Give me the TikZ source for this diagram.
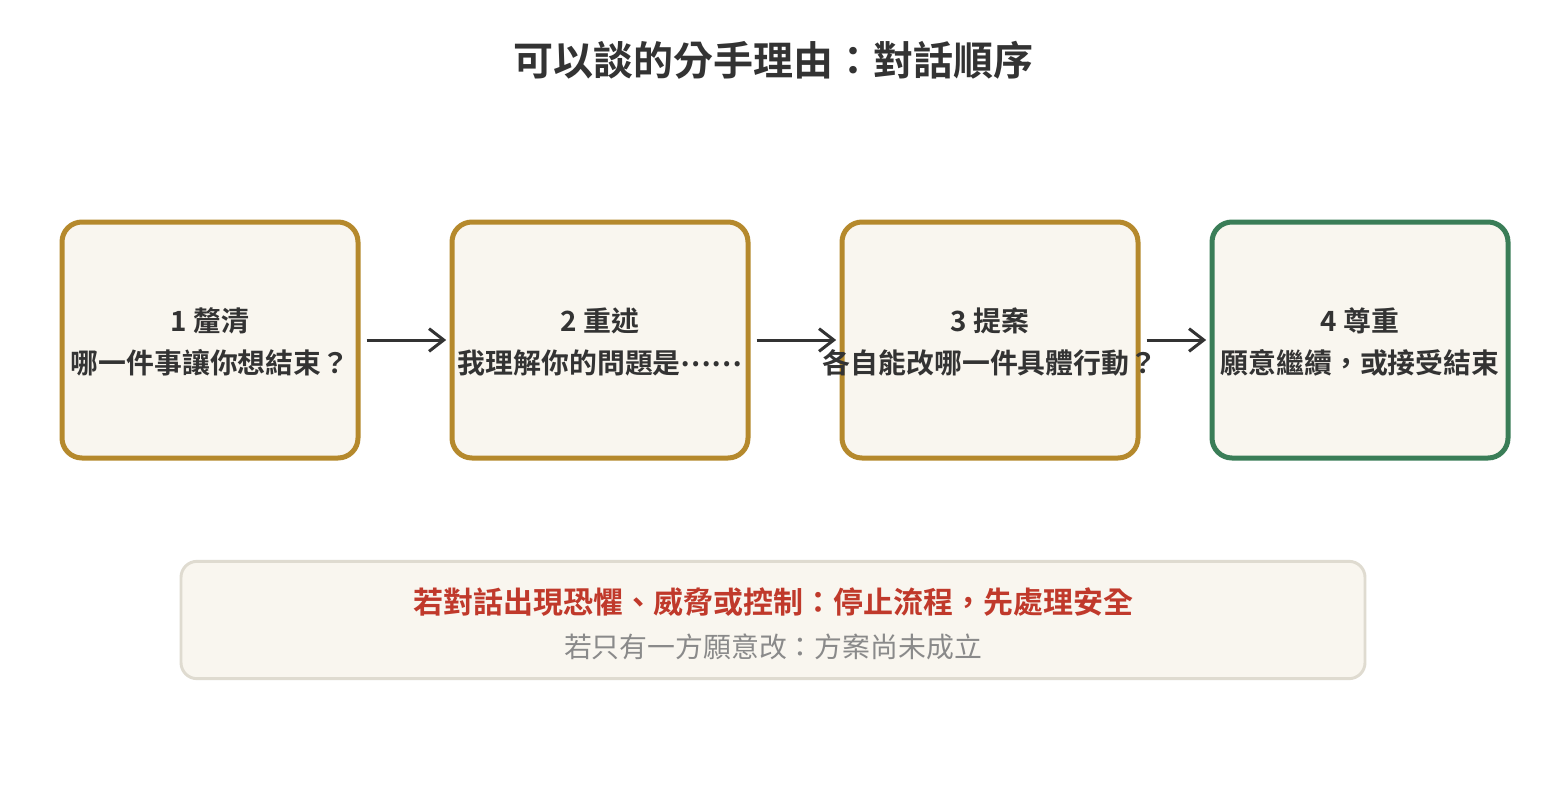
\documentclass[tikz,border=0pt]{standalone}
\usepackage{fontspec}
\setmainfont{Noto Sans CJK TC}
\newfontfamily\cjkb{Noto Sans CJK TC Bold}
\usetikzlibrary{arrows.meta}
\definecolor{gold}{HTML}{B5892C}
\definecolor{grn}{HTML}{3A7D57}
\definecolor{boxfill}{HTML}{F9F6EF}
\definecolor{txt}{HTML}{333333}
\definecolor{warnred}{HTML}{C0392B}
\definecolor{muted}{HTML}{8A8A8A}
\definecolor{noteborder}{HTML}{DFDBD0}
\begin{document}
\begin{tikzpicture}[x=0.75pt,y=-0.75pt,
  stepbox/.style={draw=gold,line width=3.75pt,fill=boxfill,rounded corners=15pt,minimum width=222pt,minimum height=177pt,inner sep=0pt},
  steptext/.style={align=center,text=txt,font=\cjkb\fontsize{20.9}{31.5}\selectfont,inner sep=0pt},
  flow/.style={draw=txt,line width=2.25pt,-{Straight Barb[length=11pt,width=17pt,line width=2.25pt]}}]
\useasboundingbox (0,0) rectangle (1546,800);
\fill[white] (0,0) rectangle (1546,800);
\node[text=txt,font=\cjkb\fontsize{30}{34}\selectfont] (title) at (773,60) {可以談的分手理由：對話順序};
\node[stepbox] (b1) at (210,340) {};
\node[stepbox] (b2) at (600,340) {};
\node[stepbox] (b3) at (990,340) {};
\node[stepbox,draw=grn] (b4) at (1360,340) {};
\node[steptext] (t1) at (210,342) {1 釐清\\哪一件事讓你想結束？};
\node[steptext] (t2) at (600,342) {2 重述\\我理解你的問題是\raisebox{0.25em}{……}};
\node[steptext] (t3) at (990,342) {3 提案\\各自能改哪一件具體行動？};
\node[steptext] (t4) at (1360,342) {4 尊重\\願意繼續，或接受結束};
\draw[flow] ([xshift=4.5pt]b1.east) -- ([xshift=-2.5pt]b2.west);
\draw[flow] ([xshift=4.5pt]b2.east) -- ([xshift=-2.5pt]b3.west);
\draw[flow] ([xshift=4.5pt]b3.east) -- ([xshift=-2.5pt]b4.west);
\node[draw=noteborder,line width=2.2pt,fill=boxfill,rounded corners=12pt,minimum width=888pt,minimum height=88pt,inner sep=0pt] (note) at (773,620) {};
\node[text=warnred,font=\cjkb\fontsize{22.5}{26}\selectfont] (warn) at (773,602) {若對話出現恐懼、威脅或控制：停止流程，先處理安全};
\node[text=muted,font=\fontsize{20.9}{24}\selectfont] (sub) at (773,647) {若只有一方願意改：方案尚未成立};
\end{tikzpicture}
\end{document}
